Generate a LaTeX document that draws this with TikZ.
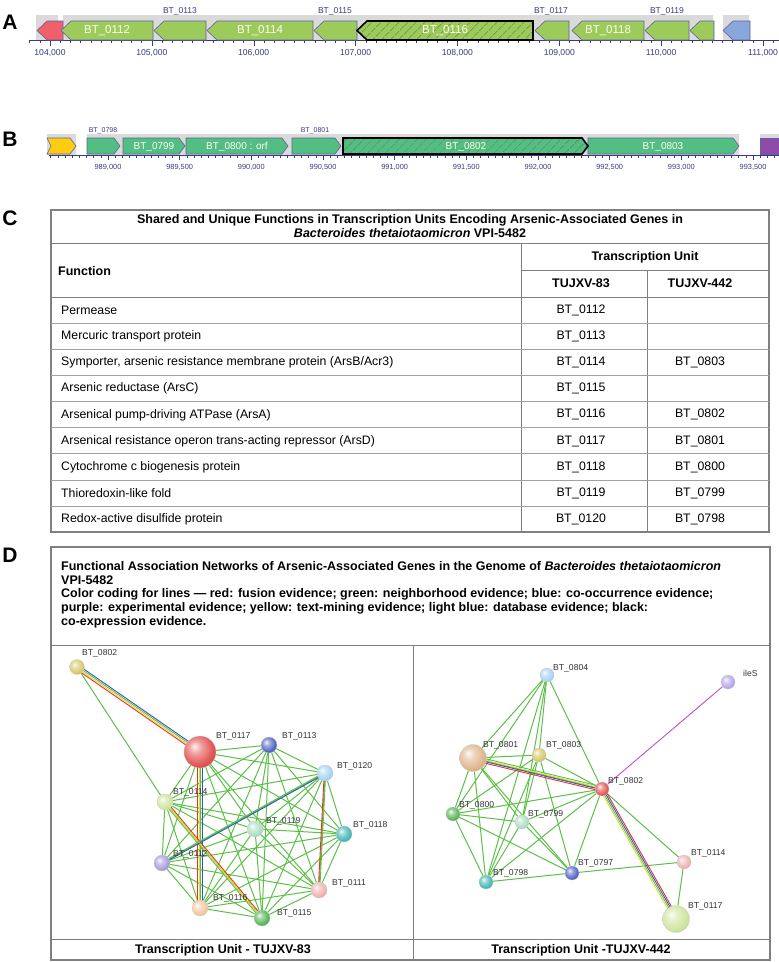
\documentclass[tikz,border=0pt]{standalone}
\usepackage{fontspec}
\setmainfont{Liberation Sans}
\usetikzlibrary{calc,backgrounds,patterns.meta}

\definecolor{genegreen}{HTML}{9CCB5C}
\definecolor{genered}{HTML}{F0606A}
\definecolor{geneblue}{HTML}{88A8DC}
\definecolor{genesea}{HTML}{52BE82}
\definecolor{geneyellow}{HTML}{FFCC10}
\definecolor{genepurple}{HTML}{8E4AA8}
\definecolor{band}{HTML}{DADADA}
\definecolor{navy}{HTML}{3A3A82}
\definecolor{rule}{HTML}{808080}
\definecolor{evgreen}{HTML}{5CBF48}
\definecolor{evred}{HTML}{E8322E}
\definecolor{evblue}{HTML}{3355C8}
\definecolor{evyellow}{HTML}{E6DC28}
\definecolor{evpurple}{HTML}{C050C0}
\definecolor{nkhaki}{HTML}{D4C866}
\definecolor{nred}{HTML}{E25252}
\definecolor{nblue}{HTML}{5060C4}
\definecolor{nsky}{HTML}{A4D2F2}
\definecolor{nlime}{HTML}{CDE59C}
\definecolor{nmint}{HTML}{AEDCC2}
\definecolor{nteal}{HTML}{40B6B2}
\definecolor{nlav}{HTML}{A898DA}
\definecolor{npink}{HTML}{EEB0B0}
\definecolor{npeach}{HTML}{F2C69E}
\definecolor{ngreen}{HTML}{54B454}
\definecolor{ntan}{HTML}{DEB48C}
\definecolor{nlilac}{HTML}{B4A4E6}

% lighter, glossy ball for the network nodes
\makeatletter
\pgfdeclareradialshading[tikz@ball]{glossball}{\pgfqpoint{-9bp}{9bp}}{%
  color(0bp)=(tikz@ball!8!white); color(10bp)=(tikz@ball!55!white);
  color(26bp)=(tikz@ball); color(40bp)=(tikz@ball!85!black);
  color(60bp)=(tikz@ball!65!black)}
\makeatother

\tikzset{
  panel/.style={font=\fontsize{21}{22}\selectfont\bfseries, inner sep=0},
  genebox/.style={draw=navy!80, line width=.6pt},
  hatchgene/.style={draw=black, line width=1.6pt,
    pattern={Lines[angle=45,distance=6.4pt,line width=.5pt]}, pattern color=black!75},
  glbl/.style={text=white!92!yellow, inner sep=0},
  axlbl/.style={text=navy, inner sep=0},
  cell/.style={font=\fontsize{12.3}{14}\selectfont, inner sep=0},
  head/.style={font=\fontsize{12.5}{14}\selectfont\bfseries, inner sep=0},
  ball/.style={circle, inner sep=0, draw=black!20, line width=.3pt},
  netlbl/.style={font=\fontsize{8.6}{9}\selectfont, text=black!80, anchor=west, inner sep=0},
  edge/.style={evgreen, line width=1pt},
}

\newcommand\evbundle[3]{\foreach \o/\c in {#3}
  \draw[\c, line width=.9pt] ($(#1)!\o pt!90:(#2)$) -- ($(#2)!\o pt!-90:(#1)$);}

\begin{document}
\begin{tikzpicture}[x=1pt,y=-1pt]
\useasboundingbox (0,0) rectangle (779,962);

% ---- A: genomic region 104,000-111,000
\node[panel] (pA) at (10,22) {A};
\fill[band] (36,15) rectangle (58,40) (63,15) rectangle (713,40) (723,15) rectangle (749,40);
\draw[navy] (29,40) -- (779,40);
\foreach \i in {-2,...,71} \draw[navy] ({50+\i*10.186},40) -- ++(0,3);
\foreach \t [count=\k from 0] in {104,...,111}{
  \draw[navy] ({50+\k*101.86},40) -- ++(0,5.5);
  \node[axlbl, font=\fontsize{8.6}{9}\selectfont] at ({50+\k*101.86},53) {\t,000};
}
\foreach \a/\b/\c in {37/63/genered, 61/153/genegreen, 154/206/genegreen, 207/313/genegreen,
    314/357/genegreen, 535/569/genegreen, 572/644/genegreen, 645/689/genegreen,
    690/714/genegreen, 723/750/geneblue}
  \draw[genebox, fill=\c] (\a,30.5) -- (\a+10,21) -- (\b,21) -- (\b,40) -- (\a+10,40) -- cycle;
\draw[hatchgene, preaction={fill=genegreen}] (357,30.5) -- (367,21) -- (533,21) -- (533,40) -- (367,40) -- cycle;
\foreach \x/\n in {107/0112, 260/0114, 445/0116, 608/0118}
  \node[glbl, font=\fontsize{11.5}{12}\selectfont] (gA\n) at (\x,30.5) {BT\_\n};
\foreach \x/\n in {180/0113, 335/0115, 551/0117, 667/0119}
  \node[axlbl, font=\fontsize{8.5}{9}\selectfont] (tA\n) at (\x,11) {BT\_\n};

% ---- B: genomic region 989,000-993,500
\node[panel] (pB) at (10,139) {B};
\fill[band] (47,134) rectangle (76,155) (87,134) rectangle (739,155) (760,134) rectangle (779,155);
\draw[navy] (49,155) -- (779,155);
\foreach \i in {0,...,101} \draw[navy] ({50.67+\i*7.1667},155) -- ++(0,3);
\foreach \t [count=\k from 0] in {{989,000},{989,500},{990,000},{990,500},{991,000},
    {991,500},{992,000},{992,500},{993,000},{993,500}}{
  \draw[navy] ({108+\k*71.67},155) -- ++(0,4.5);
  \node[axlbl, font=\fontsize{7.4}{8}\selectfont] at ({108+\k*71.67},167) {\t};
}
\draw[genebox, fill=geneyellow] (47,138) -- (70,138) -- (76,146) -- (70,154) -- (47,154) -- (51,146) -- cycle;
\foreach \a/\b/\c in {87/120/genesea, 123/185/genesea, 186/288/genesea,
    292/341/genesea, 588/739/genesea}
  \draw[genebox, fill=\c] (\a,138) -- (\b-6,138) -- (\b,146) -- (\b-6,154) -- (\a,154) -- cycle;
\draw[hatchgene, preaction={fill=genesea}] (343,138) -- (582,138) -- (588,146) -- (582,154) -- (343,154) -- cycle;
\draw[genebox, fill=genepurple] (760,138) rectangle (780,154);
\foreach \x/\t in {154/BT\_0799, 237/BT\_0800 : orf, 466/BT\_0802, 663/BT\_0803}
  \node[glbl, font=\fontsize{10}{11}\selectfont] at (\x,146.5) {\t};
\foreach \x/\n in {103/0798, 315/0801}
  \node[axlbl, font=\fontsize{7}{8}\selectfont] (tB\n) at (\x,131) {BT\_\n};

% ---- C: table
\node[panel] (pC) at (10,218) {C};
\draw[rule, line width=1.2pt] (51,210) rectangle (769,532);
\draw[rule] (51,243) -- (769,243) (521,270) -- (769,270) (521,243) -- (521,532) (647,270) -- (647,532);
\draw[rule, line width=1pt] (51,297) -- (769,297);
\foreach \r in {0,...,7} \draw[rule!75] (51,{323.1+\r*26.1}) -- (769,{323.1+\r*26.1});
\node[head, align=center] (ttl) at (410,226.5)
  {Shared and Unique Functions in Transcription Units Encoding Arsenic-Associated Genes in\\
   \textit{Bacteroides thetaiotaomicron} VPI-5482};
\node[head, anchor=west] (hfun) at (58,271) {Function};
\node[head] (htu) at (645,257) {Transcription Unit};
\node[head] (h83) at (581,283.5) {TUJXV-83};
\node[head] (h442) at (700,283.5) {TUJXV-442};
\foreach \f/\p/\q [count=\r from 0] in {
    Permease/BT\_0112/{},
    Mercuric transport protein/BT\_0113/{},
    {Symporter, arsenic resistance membrane protein (ArsB/Acr3)}/BT\_0114/BT\_0803,
    Arsenic reductase (ArsC)/BT\_0115/{},
    Arsenical pump-driving ATPase (ArsA)/BT\_0116/BT\_0802,
    Arsenical resistance operon trans-acting repressor (ArsD)/BT\_0117/BT\_0801,
    Cytochrome c biogenesis protein/BT\_0118/BT\_0800,
    Thioredoxin-like fold/BT\_0119/BT\_0799,
    Redox-active disulfide protein/BT\_0120/BT\_0798}{
  \node[cell, anchor=west] (f\r) at (61,{310.5+\r*26.1}) {\f};
  \node[cell] (p\r) at (581,{310.5+\r*26.1}) {\p};
  \node[cell] (q\r) at (700,{310.5+\r*26.1}) {\q};
}

% ---- D: networks
\node[panel] (pD) at (10,555) {D};
\draw[rule, line width=1.2pt] (51,547) rectangle (770,960);
\draw[rule, line width=1pt] (51,645) -- (770,645) (51,939) -- (770,939) (413,645) -- (413,960);
\node[head, anchor=west] (d1) at (61,566) {Functional Association Networks of Arsenic-Associated Genes in the Genome of \textit{Bacteroides thetaiotaomicron}};
\node[head, anchor=west] (d2) at (61,580) {VPI-5482};
\node[head, anchor=west] (d3) at (61,594) {Color coding for lines — red: fusion evidence; green: neighborhood evidence; blue: co-occurrence evidence;};
\node[head, anchor=west] (d4) at (61,608) {purple: experimental evidence; yellow: text-mining evidence; light blue: database evidence; black:};
\node[head, anchor=west] (d5) at (61,622) {co-expression evidence.};
\node[head] (capL) at (223,950) {Transcription Unit - TUJXV-83};
\node[head] (capR) at (581,950) {Transcription Unit -TUJXV-442};

% left network (TUJXV-83)
\foreach \n/\x/\y/\c/\s/\lx/\ly in {0802/77/667/nkhaki/15/5/-14, 0117/200/752/nred/32/16/-16,
    0113/269/745/nblue/16/13/-9, 0120/325/773/nsky/16/12/-7, 0114/165/802/nlime/16/8/-10,
    0119/255/829/nmint/16/11/-8, 0118/344/834/nteal/16/9/-9, 0112/162/863/nlav/16/11/-9,
    0111/319/890/npink/16/13/-7, 0116/200/908/npeach/16/13/-10, 0115/262/918/ngreen/16/15/-5}{
  \node[ball, ball color=\c, shading=glossball, minimum size=\s pt] (L\n) at (\x,\y) {};
  \node[netlbl] (lL\n) at (\x+\lx,\y+\ly) {BT\_\n};
}
% right network (TUJXV-442)
\foreach \n/\x/\y/\c/\s/\lx/\ly in {0804/547/675/nsky/14/6/-7, 0801/473/758/ntan/27/10/-13,
    0803/539/755/nkhaki/14/7/-10, 0802/602/789/nred/14/6/-8, 0800/453/814/ngreen/14/6/-9,
    0799/522/822/nmint/14/6/-8, 0797/572/873/nblue/14/6/-10, 0798/486/882/nteal/14/7/-9,
    0114/684/862/npink/14/7/-9, 0117/676/919/nlime/27/12/-13}{
  \node[ball, ball color=\c, shading=glossball, minimum size=\s pt] (R\n) at (\x,\y) {};
  \node[netlbl] (lR\n) at (\x+\lx,\y+\ly) {BT\_\n};
}
\node[ball, ball color=nlilac, shading=glossball, minimum size=14pt] (RileS) at (728,682) {};
\node[netlbl] (lRileS) at (743,673) {ileS};

\begin{scope}[on background layer]
  \foreach \a [count=\i] in {0111,0112,0113,0114,0115,0116,0117,0118,0119,0120}
    \foreach \b [count=\j] in {0111,0112,0113,0114,0115,0116,0117,0118,0119,0120}
      {\ifnum\i<\j \draw[edge] (L\a) -- (L\b);\fi}
  \draw[edge] (L0802) -- (L0114);
  \evbundle{L0802}{L0117}{2.2/evblue,0.75/evgreen,-0.75/evyellow,-2.2/evred}
  \evbundle{L0117}{L0116}{2.2/evblue,0.75/evgreen,-0.75/evyellow,-2.2/evred}
  \evbundle{L0114}{L0115}{1.4/evred,0/evyellow,-1.4/evgreen}
  \evbundle{L0120}{L0112}{0.75/evblue,-0.75/evgreen}
  \evbundle{L0120}{L0111}{0.75/evgreen,-0.75/evred}

  \foreach \a [count=\i] in {0797,0798,0799,0800,0801,0802,0803}
    \foreach \b [count=\j] in {0797,0798,0799,0800,0801,0802,0803}
      {\ifnum\i<\j \draw[edge] (R\a) -- (R\b);\fi}
  \foreach \b in {0798,0799,0800,0801,0802,0803}
    \draw[edge] (R0804) -- (R\b);
  \draw[edge] (R0802) -- (R0114) -- (R0117) (R0797) -- (R0114);
  \draw[evpurple, line width=.9pt] (R0802) -- (RileS);
  \evbundle{R0801}{R0802}{2.2/evgreen,0.75/evyellow,-0.75/evblue,-2.2/evred}
  \evbundle{R0802}{R0117}{2.2/evred,0.75/evblue,-0.75/evgreen,-2.2/evyellow}
\end{scope}
\end{tikzpicture}
\end{document}
